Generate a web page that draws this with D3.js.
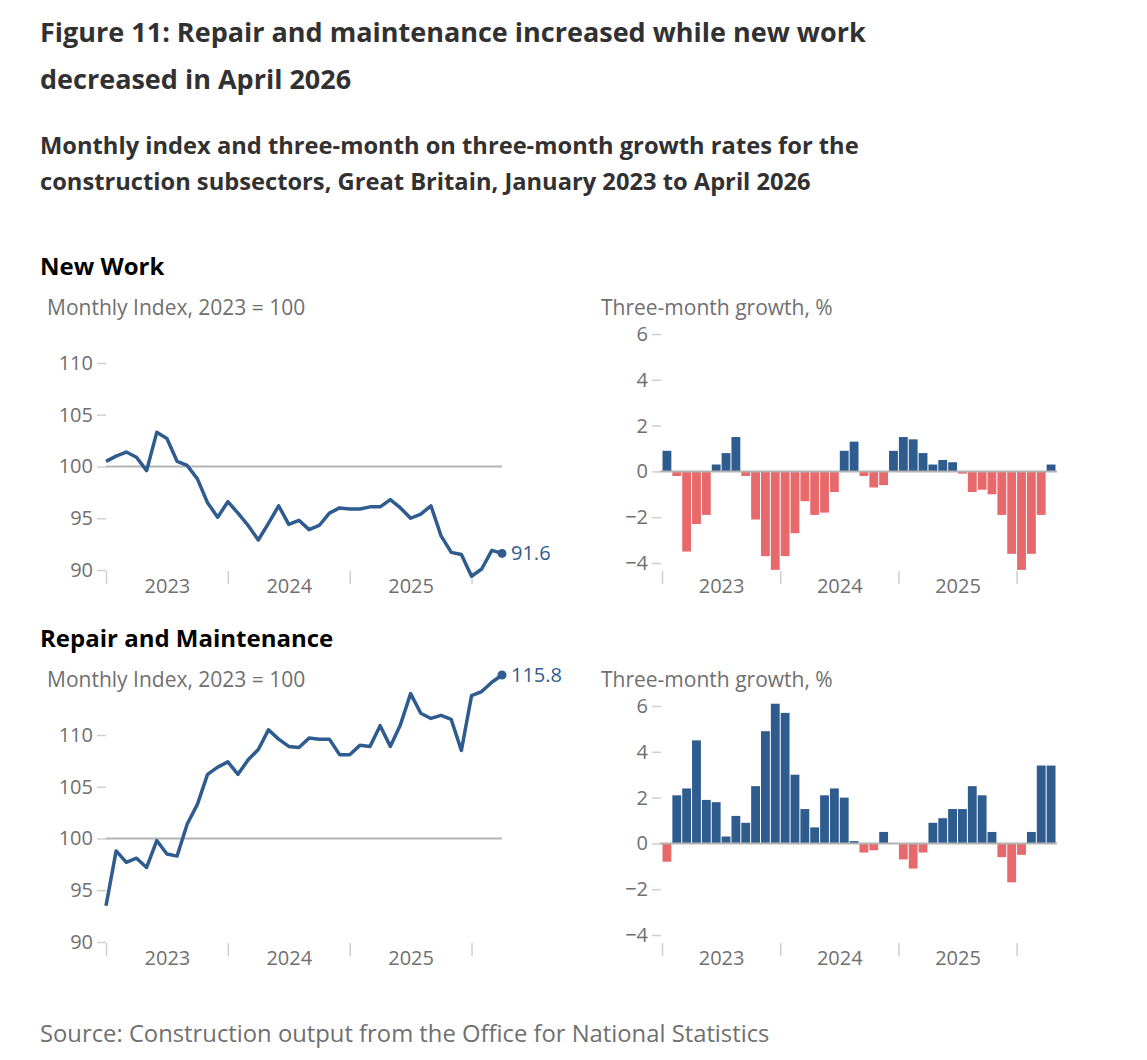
<!DOCTYPE html>
<html>
<head>
<meta charset="utf-8">
<script src="https://cdn.jsdelivr.net/npm/d3@7"></script>
<style>
body { margin: 0; background: #fff; font-family: "Open Sans", sans-serif; }
.tick line { stroke: #cfcfcf; stroke-width: 1.5; }
.tick text { fill: #707070; font-size: 20px; font-family: "Open Sans", sans-serif; }
</style>
</head>
<body>
<div id="chart"></div>
<script>
// Jan 2023 .. Apr 2026, one entry per month
var months = d3.timeMonth.range(new Date(2023, 0, 1), new Date(2026, 4, 1));
var yearLabels = ["2023", "2024", "2025"];
var indexTicks  = [90, 95, 100, 105, 110];
var growthTicks = [-4, -2, 0, 2, 4, 6];

var newWorkIndex = [100.5, 101.0, 101.4, 100.9, 99.6, 103.3, 102.7, 100.5, 100.1, 98.8,
                    96.5, 95.1, 96.6, 95.5, 94.3, 92.9, 94.5, 96.2, 94.4, 94.8,
                    93.9, 94.3, 95.5, 96.0, 95.9, 95.9, 96.1, 96.1, 96.8, 96.0,
                    95.0, 95.4, 96.2, 93.3, 91.7, 91.5, 89.4, 90.1, 91.9, 91.6];
var newWorkGrowth = [0.9, -0.2, -3.5, -2.3, -1.9, 0.3, 0.8, 1.5, -0.2, -2.1,
                     -3.7, -4.3, -3.7, -2.7, -1.3, -1.9, -1.8, -0.9, 0.9, 1.3,
                     -0.2, -0.7, -0.6, 0.9, 1.5, 1.4, 0.8, 0.3, 0.5, 0.4,
                     -0.1, -0.9, -0.8, -1.0, -1.9, -3.6, -4.3, -3.6, -1.9, 0.3];
var repairIndex = [93.5, 98.8, 97.7, 98.1, 97.2, 99.8, 98.5, 98.3, 101.4, 103.3,
                   106.2, 106.9, 107.4, 106.2, 107.6, 108.6, 110.5, 109.6, 108.9, 108.8,
                   109.7, 109.6, 109.6, 108.1, 108.1, 109.0, 108.9, 110.9, 108.9, 111.0,
                   114.0, 112.1, 111.6, 111.9, 111.5, 108.5, 113.8, 114.2, 115.1, 115.8];
var repairGrowth = [-0.8, 2.1, 2.4, 4.5, 1.9, 1.8, 0.3, 1.2, 0.9, 2.5,
                    4.9, 6.1, 5.7, 3.0, 1.5, 0.7, 2.1, 2.4, 2.0, 0.1,
                    -0.4, -0.3, 0.5, 0.0, -0.7, -1.1, -0.4, 0.9, 1.1, 1.5,
                    1.5, 2.5, 2.1, 0.5, -0.6, -1.7, -0.5, 0.5, 3.4, 3.4];

var blue = "#2f5c8f";
var red  = "#e8696b";
var grey = "#707070";

var width = 1147, height = 1060;

var svg = d3.select("#chart").append("svg")
    .attr("width", width)
    .attr("height", height);

function addText(x, y, str, size, weight, colour) {
    return svg.append("text")
        .attr("x", x).attr("y", y)
        .attr("font-size", size)
        .attr("font-weight", weight)
        .attr("fill", colour)
        .text(str);
}

// headings
addText(40, 42, "Figure 11: Repair and maintenance increased while new work", 27, 700, "#323132");
addText(40, 89, "decreased in April 2026", 27, 700, "#323132");
addText(40, 154, "Monthly index and three-month on three-month growth rates for the", 23.7, 700, "#323132");
addText(40, 190, "construction subsectors, Great Britain, January 2023 to April 2026", 23.7, 700, "#323132");
addText(40, 1042, "Source: Construction output from the Office for National Statistics", 23.8, 400, grey);

// month index -> x, shared by the year ticks and labels
function yearAxes(x, y0) {
    svg.append("g")
        .attr("transform", "translate(0," + y0 + ")")
        .call(d3.axisBottom(x).tickValues([0, 12, 24, 36]).tickSize(13).tickFormat(""))
        .call(function (g) { g.select(".domain").remove(); });
    svg.append("g")
        .attr("transform", "translate(0," + y0 + ")")
        .call(d3.axisBottom(x).tickValues([6, 18, 30]).tickSize(0).tickPadding(8)
              .tickFormat(function (d, i) { return yearLabels[i]; }))
        .call(function (g) { g.select(".domain").remove(); });
}

function linePanel(top, title, values) {
    addText(40, top, title, 24, 700, "#000");
    addText(47, top + 40, "Monthly Index, 2023 = 100", 21, 400, grey);

    var x = d3.scaleLinear().domain([0, months.length - 1]).range([106, 502]);
    var y = d3.scaleLinear().domain([90, 110]).range([top + 295, top + 88]);

    svg.append("g")
        .attr("transform", "translate(106,0)")
        .call(d3.axisLeft(y).tickValues(indexTicks).tickSize(9).tickPadding(4))
        .call(function (g) { g.select(".domain").remove(); });

    yearAxes(x, y(90) + 1);

    svg.append("line")
        .attr("x1", x(0)).attr("x2", x(months.length - 1))
        .attr("y1", y(100)).attr("y2", y(100))
        .attr("stroke", "#b3b3b3").attr("stroke-width", 2);

    var line = d3.line()
        .x(function (d, i) { return x(i); })
        .y(function (d) { return y(d); });

    svg.append("path")
        .attr("d", line(values))
        .attr("fill", "none")
        .attr("stroke", blue)
        .attr("stroke-width", 3.5)
        .attr("stroke-linejoin", "round");

    var last = values.length - 1;
    svg.append("circle")
        .attr("cx", x(last)).attr("cy", y(values[last]))
        .attr("r", 4.5).attr("fill", blue);
    svg.append("text")
        .attr("x", x(last) + 9).attr("y", y(values[last]))
        .attr("dy", "0.35em")
        .attr("font-size", 20)
        .attr("fill", blue)
        .text(values[last].toFixed(1));
}

function barPanel(top, values) {
    addText(601, top + 40, "Three-month growth, %", 21, 400, grey);

    var x = d3.scaleLinear().domain([0, months.length]).range([662, 1056]);
    var y = d3.scaleLinear().domain([-4, 6]).range([top + 288, top + 59]);

    svg.append("g")
        .attr("transform", "translate(661,0)")
        .call(d3.axisLeft(y).tickValues(growthTicks).tickSize(9).tickPadding(4))
        .call(function (g) { g.select(".domain").remove(); });

    yearAxes(x, top + 296);

    svg.append("g").selectAll("rect")
        .data(values)
        .join("rect")
        .attr("x", function (d, i) { return x(i) + 0.5; })
        .attr("width", function (d, i) { return x(i + 1) - x(i) - 1; })
        .attr("y", function (d) { return y(Math.max(0, d)); })
        .attr("height", function (d) { return Math.abs(y(d) - y(0)); })
        .attr("fill", function (d) { return d < 0 ? red : blue; });

    svg.append("line")
        .attr("x1", 660).attr("x2", 1057)
        .attr("y1", y(0)).attr("y2", y(0))
        .attr("stroke", "#b3b3b3").attr("stroke-width", 2);
}

linePanel(275, "New Work", newWorkIndex);
barPanel(275, newWorkGrowth);
linePanel(647, "Repair and Maintenance", repairIndex);
barPanel(647, repairGrowth);
</script>
</body>
</html>
